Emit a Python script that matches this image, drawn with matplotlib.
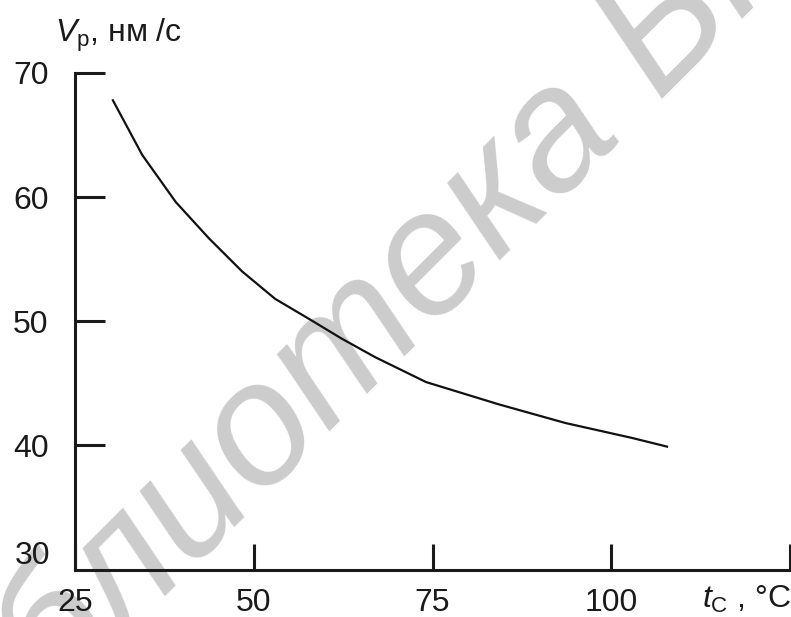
import math
import matplotlib
matplotlib.use("Agg")
import matplotlib.pyplot as plt

plt.rcParams['font.family'] = ['Liberation Sans', 'DejaVu Sans']
plt.rcParams['mathtext.fontset'] = 'custom'
plt.rcParams['mathtext.rm'] = 'Liberation Sans'
plt.rcParams['mathtext.it'] = 'Liberation Sans:italic'

# скорость роста V_p от температуры t_c
t_c = [30.3, 34.4, 39.1, 43.7, 48.4, 53.0, 57.7, 62.3, 67.0, 74.1, 84.3,
       93.6, 102.9, 107.8]
v_p = [67.8, 63.4, 59.6, 56.7, 54.0, 51.8, 50.2, 48.6, 47.1, 45.1, 43.3,
       41.8, 40.6, 39.9]

x_ticks = [25, 50, 75, 100, 125]
x_labels = ['25', '50', '75', '100', '']
y_ticks = [40, 50, 60, 70]

W, H = 791, 617
fig = plt.figure(figsize=(W / 100, H / 100), dpi=100)
ax = fig.add_axes([75 / W, 47.5 / H, 715 / W, 496.5 / H])

# водяной знак под 45°, под осями
wm = dict(fontsize=125, style='italic', color='#cccccc', zorder=-1)
r = fig.canvas.get_renderer()
tmp = fig.text(0, 0, 'Библиоте', **wm)
w = tmp.get_window_extent(r).width
tmp.remove()
ang = math.radians(45)
x0 = 499 - w * math.cos(ang)
y0 = (H - 263) - w * math.sin(ang)
fig.text(x0 / W, y0 / H, 'Библиотека БГУИР', rotation=45,
         rotation_mode='anchor', ha='left', va='baseline', **wm)

ax.plot(t_c, v_p, color='#111111', linewidth=1.6)

ax.set_xlim(25, 125)
ax.set_ylim(30, 70)
ax.patch.set_alpha(0)
for s in ['top', 'right']:
    ax.spines[s].set_visible(False)
for s in ['left', 'bottom']:
    ax.spines[s].set_linewidth(2.2)
    ax.spines[s].set_color('#1a1a1a')

ax.set_xticks(x_ticks, x_labels)
ax.set_yticks(y_ticks, [str(v) for v in y_ticks])
ax.tick_params(axis='both', direction='in', width=2.2, color='#1a1a1a',
               labelsize=23, labelcolor='#1a1a1a')
ax.tick_params(axis='x', length=19, pad=13)
ax.tick_params(axis='y', length=21.5, pad=19)
ax.text(-0.035, 0.027, '30', transform=ax.transAxes, ha='right', va='center',
        fontsize=23, color='#1a1a1a')

ax.text(0.94, -0.06, r'$t_{\mathrm{С}}$ , °C', transform=ax.transAxes,
        ha='center', va='center', fontsize=23, color='#1a1a1a')
fig.text(55 / W, 1 - 42 / H, r'$V_{\mathrm{р}}$, нм /с', ha='left',
         va='baseline', fontsize=23, color='#1a1a1a')

fig.savefig('out.png', dpi=100)
